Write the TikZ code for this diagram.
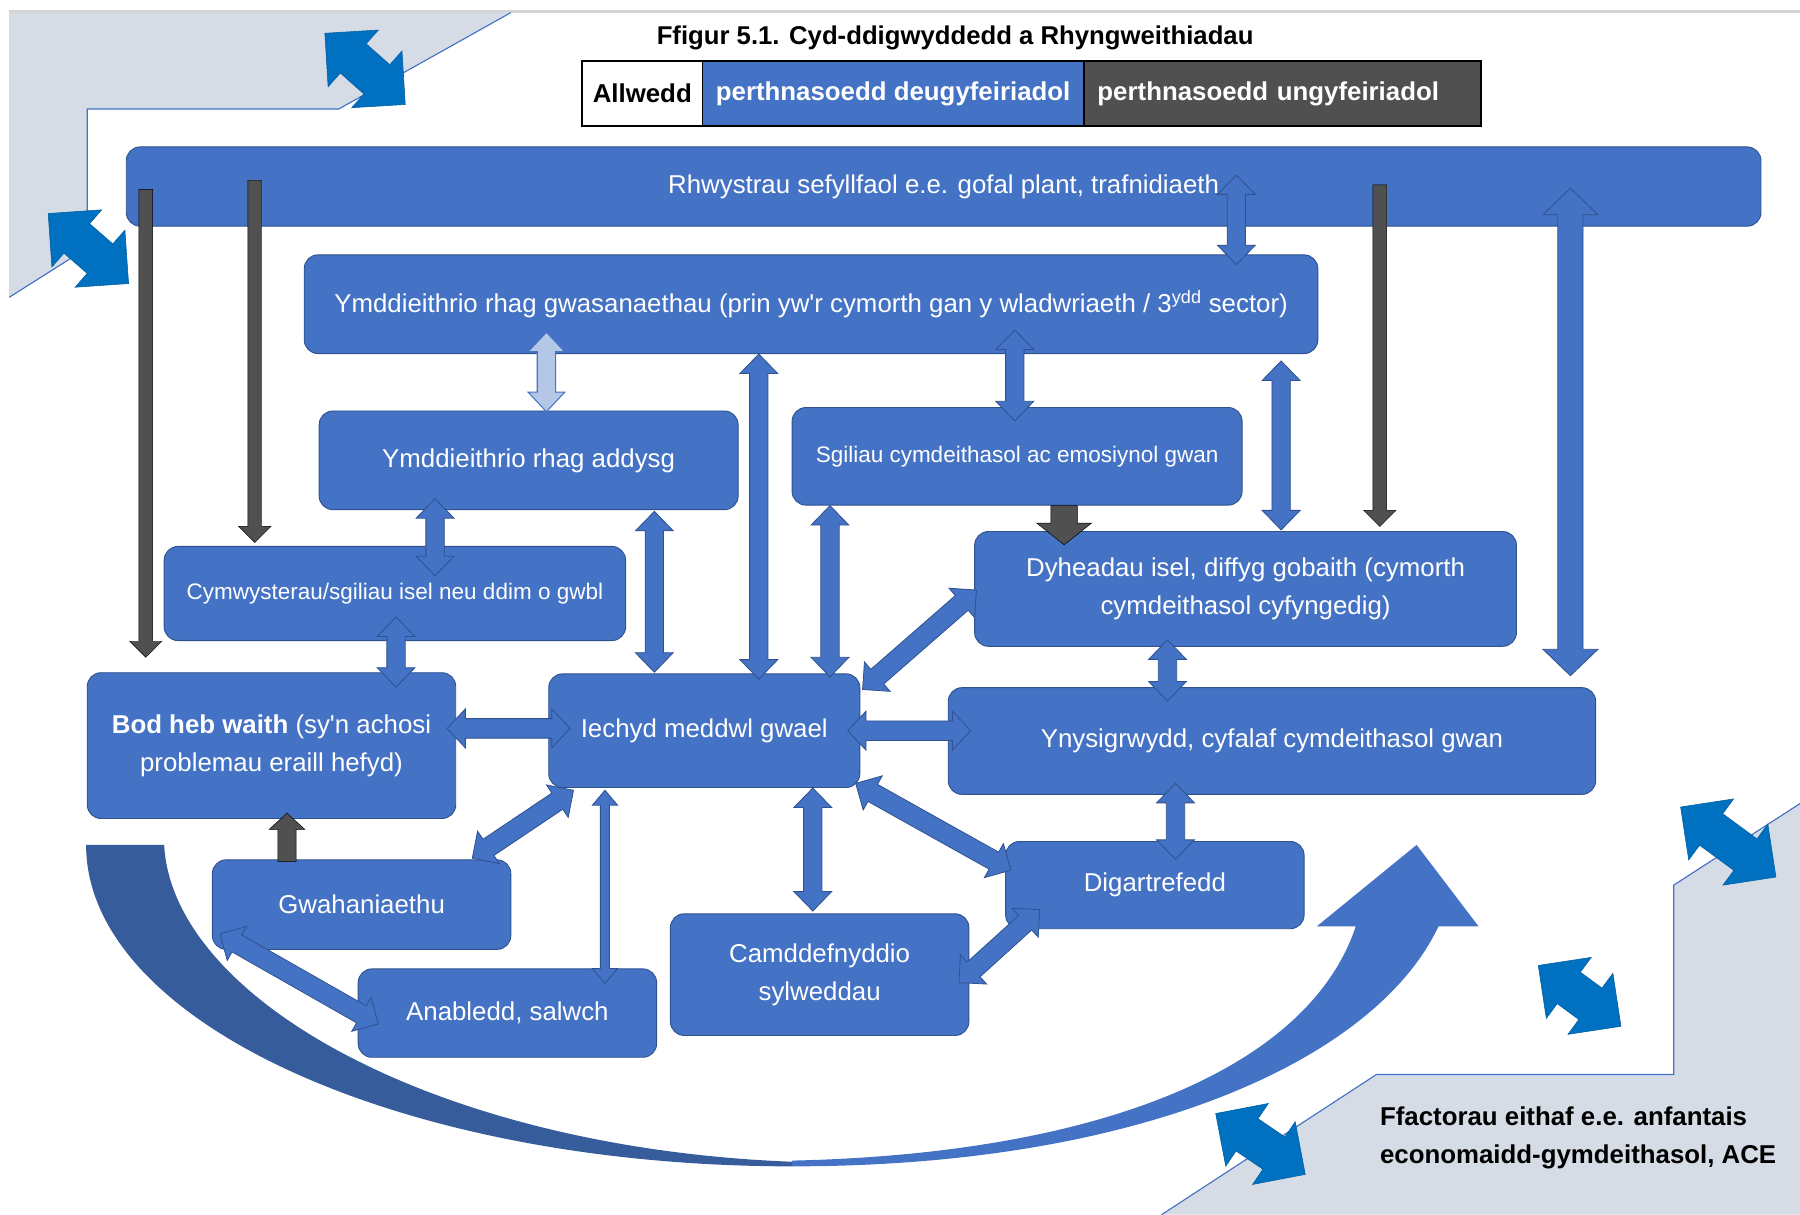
\documentclass[tikz,border=0pt]{standalone}
\usepackage{fontspec}
\setmainfont{Liberation Sans}
\usetikzlibrary{calc}
\definecolor{cNode}{HTML}{4472C4}
\definecolor{cEdge}{HTML}{2F528F}
\definecolor{cDark}{HTML}{505050}
\definecolor{cLight}{HTML}{B4C7E7}
\definecolor{cBg}{HTML}{D6DCE5}
\definecolor{cCorner}{HTML}{0070C0}
\definecolor{cCurve}{HTML}{365C9C}
\definecolor{cTop}{HTML}{D4D4D4}

% double block arrow: style, A, B, shaft half width, head half width, head length
\newcommand\dbarrow[6]{%
  \path (#2) coordinate (dbA) (#3) coordinate (dbB);
  \draw[#1] (dbA) -- ($(dbA)!#6!(dbB)!#5!90:(dbB)$) -- ($(dbA)!#6!(dbB)!#4!90:(dbB)$)
    -- ($(dbB)!#6!(dbA)!#4!-90:(dbA)$) -- ($(dbB)!#6!(dbA)!#5!-90:(dbA)$) -- (dbB)
    -- ($(dbB)!#6!(dbA)!#5!90:(dbA)$) -- ($(dbB)!#6!(dbA)!#4!90:(dbA)$)
    -- ($(dbA)!#6!(dbB)!#4!-90:(dbB)$) -- ($(dbA)!#6!(dbB)!#5!-90:(dbB)$) -- cycle;}
% single block arrow from A (base) to B (tip)
\newcommand\sgarrow[6]{%
  \path (#2) coordinate (sgA) (#3) coordinate (sgB);
  \draw[#1] ($(sgA)!#4!90:(sgB)$) -- ($(sgB)!#6!(sgA)!#4!-90:(sgA)$)
    -- ($(sgB)!#6!(sgA)!#5!-90:(sgA)$) -- (sgB) -- ($(sgB)!#6!(sgA)!#5!90:(sgA)$)
    -- ($(sgB)!#6!(sgA)!#4!90:(sgA)$) -- ($(sgA)!#4!-90:(sgB)$) -- cycle;}

\begin{document}
\begin{tikzpicture}[x=1pt,y=-1pt,
  box/.style={draw=cEdge, line width=0.8pt, fill=cNode, rounded corners=12pt, text=white,
    align=center, inner sep=0pt, font=\fontsize{22.5}{33}\selectfont},
  smallbox/.style={box, font=\fontsize{19.6}{28}\selectfont},
  keycell/.style={draw=black, line width=1.5pt, minimum height=57pt, inner sep=0pt,
    font=\bfseries\fontsize{22.5}{27}\selectfont},
  biarr/.style={fill=cNode, draw=cEdge, line width=0.7pt},
  litarr/.style={fill=cLight, draw=cNode, line width=0.9pt},
  onearr/.style={fill=cDark},
  cornarr/.style={fill=cCorner, draw=cCorner!85!black, line width=0.5pt},
  region/.style={fill=cBg},
  rim/.style={draw=cNode, line width=1pt}]

\useasboundingbox (0,0) rectangle (1568,1058);

% background regions
\draw[cTop, line width=2pt] (8,10) -- (1568,10);
\fill[region] (8,11) -- (445,11) -- (295,95) -- (76,95) -- (76,216) -- (8,259) -- cycle;
\draw[rim] (445,11) -- (295,95) -- (76,95) -- (76,216) -- (8,259);
\fill[region] (1568,700) -- (1458,771) -- (1458,936) -- (1199,936) -- (1012,1058) -- (1568,1058) -- cycle;
\draw[rim] (1568,700) -- (1458,771) -- (1458,936) -- (1199,936) -- (1012,1058);

% corner double arrows
\dbarrow{cornarr}{283,29}{353,91}{17pt}{33pt}{33pt}
\dbarrow{cornarr}{42,186}{112,247}{17pt}{33pt}{33pt}
\dbarrow{cornarr}{1464,703}{1547,764}{17pt}{33pt}{33pt}
\dbarrow{cornarr}{1340,841}{1412,894}{17pt}{33pt}{33pt}
\dbarrow{cornarr}{1059,970}{1137,1023}{17pt}{33pt}{33pt}

% big curved arrow
\fill[cCurve] (75,736) arc[start angle=180, end angle=90, x radius=615, y radius=280]
  -- (690,1012) .. controls (380,1000) and (150,870) .. (143,736) -- cycle;
\fill[cNode] (690,1016) .. controls (1000,1016) and (1200,920) .. (1253,807)
  -- (1288,807) -- (1234,736) -- (1147,807) -- (1181,807)
  .. controls (1140,930) and (960,1005) .. (690,1011) -- cycle;

% title and key
\node[font=\bfseries\fontsize{22.4}{27}\selectfont] (title) at (832,33)
  {Ffigur 5.1. Cyd-ddigwyddedd a Rhyngweithiadau};
\node[keycell, fill=white, text=black, minimum width=105pt] (kA) at (559.5,81.5) {Allwedd};
\node[keycell, fill=cNode, text=white, minimum width=332pt] (kB) at (778,81.5) {perthnasoedd deugyfeiriadol};
\node[keycell, fill=cDark, text=white, minimum width=346pt, text width=322pt, align=left] (kC) at (1117,81.5) {perthnasoedd ungyfeiriadol};

% main boxes
\node[box, minimum width=1424pt, minimum height=69pt] (rhw) at (822,162.5)
  {Rhwystrau sefyllfaol e.e. gofal plant, trafnidiaeth};
\node[box, minimum width=883pt, minimum height=86pt] (gwas) at (706.5,265)
  {Ymddieithrio rhag gwasanaethau (prin yw\textquotesingle r cymorth gan y wladwriaeth / 3\textsuperscript{ydd} sector)};
\node[box, minimum width=365pt, minimum height=86pt] (addysg) at (460.5,401) {Ymddieithrio rhag addysg};
\node[smallbox, minimum width=392pt, minimum height=85pt] (sgil) at (886,397.5) {Sgiliau cymdeithasol ac emosiynol gwan};
\node[smallbox, minimum width=402pt, minimum height=82pt] (cymw) at (344,517) {Cymwysterau/sgiliau isel neu ddim o gwbl};
\node[box, minimum width=472pt, minimum height=100pt] (dyh) at (1085,513)
  {Dyheadau isel, diffyg gobaith (cymorth\\cymdeithasol cyfyngedig)};
\node[box, minimum width=321pt, minimum height=127pt] (bod) at (236.5,649.5)
  {\textbf{Bod heb waith} (sy\textquotesingle n achosi\\problemau eraill hefyd)};
\node[box, minimum width=271pt, minimum height=99pt] (iech) at (613.5,636.5) {Iechyd meddwl gwael};
\node[box, minimum width=564pt, minimum height=93pt] (ynys) at (1108,645.5) {Ynysigrwydd, cyfalaf cymdeithasol gwan};
\node[box, minimum width=260pt, minimum height=78pt] (gwah) at (315,788) {Gwahaniaethu};
\node[box, minimum width=260pt, minimum height=77pt] (anab) at (442,882.5) {Anabledd, salwch};
\node[box, minimum width=260pt, minimum height=106pt] (camd) at (714,849) {Camddefnyddio\\sylweddau};
\node[box, minimum width=260pt, minimum height=76pt] (digt) at (1006,771) {Digartrefedd};

\node[anchor=west, align=left, inner sep=0pt, font=\bfseries\fontsize{22.5}{33}\selectfont] (ffac) at (1202,991.5)
  {Ffactorau eithaf e.e. anfantais\\economaidd-gymdeithasol, ACE};

% two-way connectors
\dbarrow{biarr}{$(1077,0 |- rhw.center)+(0,-10)$}{$(1077,0 |- gwas.north)+(0,9)$}{8pt}{16.5pt}{17pt}
\dbarrow{litarr}{$(476,0 |- gwas.south)+(0,-19)$}{$(476,0 |- addysg.north)+(0,1)$}{8pt}{16pt}{17pt}
\dbarrow{biarr}{$(884,0 |- gwas.south)+(0,-21)$}{$(884,0 |- sgil.north)+(0,12)$}{8pt}{16.5pt}{17pt}
\dbarrow{biarr}{$(661,0 |- gwas.south)$}{$(661,0 |- iech.north)+(0,5)$}{8pt}{16.5pt}{17pt}
\dbarrow{biarr}{$(1116,0 |- gwas.south)+(0,6)$}{$(1116,0 |- dyh.north)+(0,-1)$}{8pt}{16.5pt}{17pt}
\dbarrow{biarr}{$(1368,0 |- rhw.center)+(0,1.5)$}{$(1368,0 |- ynys.north)+(0,-10)$}{11pt}{24pt}{23pt}
\dbarrow{biarr}{$(379,0 |- addysg.south)+(0,-10)$}{$(379,0 |- cymw.north)+(0,26)$}{8pt}{16.5pt}{17pt}
\dbarrow{biarr}{$(570,0 |- addysg.south)+(0,1)$}{$(570,0 |- iech.north)+(0,-1)$}{8pt}{16.5pt}{17pt}
\dbarrow{biarr}{$(723,0 |- sgil.south)$}{$(723,0 |- iech.north)+(0,3)$}{8pt}{16.5pt}{17pt}
\dbarrow{biarr}{$(345,0 |- cymw.south)+(0,-21)$}{$(345,0 |- bod.north)+(0,13)$}{8pt}{16.5pt}{17pt}
\dbarrow{biarr}{$(bod.east |- iech.center)+(-8,-2)$}{$(iech.west)+(19,-2)$}{8.5pt}{17pt}{16pt}
\dbarrow{biarr}{$(iech.east)+(-11,0)$}{$(ynys.west |- iech.east)+(20,0)$}{8.5pt}{17pt}{16pt}
\dbarrow{biarr}{$(iech.north east)+(2,14)$}{$(dyh.west)+(2,1)$}{8.5pt}{17pt}{17pt}
\dbarrow{biarr}{$(1017,0 |- dyh.south)+(0,-6)$}{$(1017,0 |- ynys.north)+(0,12)$}{8pt}{16.5pt}{17pt}
\dbarrow{biarr}{$(1024,0 |- ynys.south)+(0,-10)$}{$(1024,0 |- digt.north)+(0,16)$}{8pt}{16.5pt}{17pt}
\dbarrow{biarr}{$(iech.south west)+(22,2)$}{$(gwah.north east)+(-34,-1)$}{8.5pt}{17pt}{17pt}
\dbarrow{biarr}{$(527,0 |- iech.south)+(0,2)$}{$(527,0 |- anab.north)+(0,13)$}{4pt}{11pt}{13pt}
\dbarrow{biarr}{$(708,0 |- iech.south)$}{$(708,0 |- camd.north)+(0,-2)$}{8pt}{16.5pt}{17pt}
\dbarrow{biarr}{$(iech.south east)+(-4,-4)$}{$(digt.west)+(5,-13)$}{8.5pt}{17pt}{17pt}
\dbarrow{biarr}{$(digt.south west)+(30,-17)$}{$(camd.east)+(-9,7)$}{8.5pt}{17pt}{17pt}
\dbarrow{biarr}{$(gwah.south west)+(7,-14)$}{$(anab.west)+(18,9.5)$}{8.5pt}{17pt}{17pt}

% one-way connectors
\sgarrow{onearr}{$(127,0 |- rhw.center)+(0,2.5)$}{$(127,0 |- bod.north)+(0,-13)$}{6pt}{14pt}{14pt}
\sgarrow{onearr}{$(222,0 |- rhw.center)+(0,-5.5)$}{$(222,0 |- cymw.north)+(0,-3)$}{6pt}{14pt}{14pt}
\sgarrow{onearr}{$(1202,0 |- rhw.center)+(0,-1.5)$}{$(1202,0 |- dyh.north)+(0,-4)$}{6pt}{14pt}{14pt}
\sgarrow{onearr}{$(927,0 |- sgil.south)$}{$(927,0 |- dyh.north)+(0,12)$}{11.5pt}{24pt}{19pt}
\sgarrow{onearr}{$(250,0 |- gwah.north)+(0,2)$}{$(250,0 |- bod.south)+(0,-5)$}{8pt}{15.5pt}{14pt}

\end{tikzpicture}
\end{document}
